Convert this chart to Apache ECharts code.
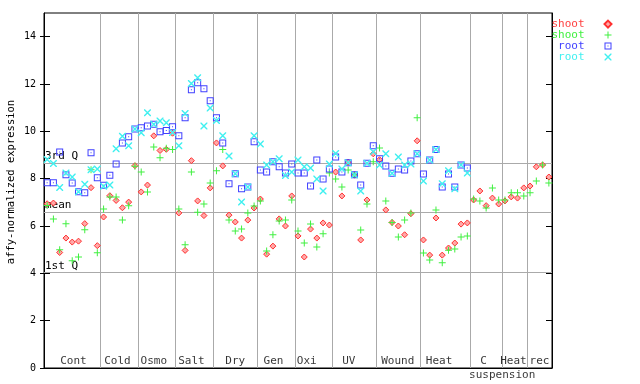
<!DOCTYPE html>
<html><head><meta charset="utf-8">
<script src="https://cdn.jsdelivr.net/npm/echarts@6/dist/echarts.min.js"></script>
<style>html,body{margin:0;padding:0;background:#fff}#c{width:640px;height:384px}</style>
</head><body><div id="c"></div>
<script>
// ---- data ----
const groupNames = ['Cont','Cold','Osmo','Salt','Dry','Gen','Oxi','UV','Wound','Heat','C','Heat','rec'];
const groupSizes = [9,6,6,6,7,6,6,7,7,8,5,4,4];
const groupLabelPos = [4.7,11.7,17.5,23.5,30.5,36.6,41.9,48.6,56.4,63.0,70.1,74.85,79.0];
const subLabelNames = ['suspension'];
const subLabelPos = [73.05];
const yTicks = [0,2,4,6,8,10,12,14];
const quantNames = ['3rd Q','mean','1st Q'];
const quantValues = [8.67,6.60,4.05];

const shoot1 = [6.94,6.97,4.88,5.49,5.32,5.36,6.10,7.62,5.17,
  6.38,7.28,7.08,6.77,7.01,8.55,
  7.44,7.73,9.81,9.19,9.24,9.92,
  6.55,4.97,8.76,7.06,6.44,7.61,
  9.51,8.54,6.46,6.17,5.49,6.25,6.76,
  7.14,4.81,5.15,6.30,6.00,7.27,
  5.58,4.69,5.87,5.49,6.13,6.04,
  8.28,7.27,8.70,8.15,5.41,7.10,9.05,
  8.80,6.68,6.15,6.00,5.63,6.52,9.60,
  5.41,4.77,6.34,4.77,5.07,5.28,6.08,6.13,
  7.10,7.48,6.86,7.18,6.93,
  7.06,7.23,7.18,7.61,
  7.69,8.50,8.58,8.07];
const shoot2 = [6.87,6.30,5.00,6.10,4.53,4.69,5.84,8.38,4.87,
  6.72,7.23,7.23,6.25,6.86,8.52,
  8.28,7.44,9.34,8.88,9.29,9.23,
  6.72,5.21,8.28,6.58,6.93,7.82,
  8.33,9.23,6.25,5.79,5.87,6.55,6.84,
  7.06,4.94,5.63,6.21,6.25,7.10,
  5.79,5.28,6.08,5.11,5.67,8.24,
  7.99,7.65,8.37,8.17,5.83,6.93,8.71,
  9.30,7.06,6.15,5.53,6.25,6.55,10.57,
  4.86,4.56,6.68,4.45,4.98,5.03,5.53,5.58,
  7.14,7.06,6.76,7.61,7.10,
  7.10,7.40,7.40,7.27,
  7.40,7.90,8.58,7.82];
const root1 = [7.83,7.83,9.13,8.17,7.82,7.45,7.40,9.09,8.04,
  7.72,8.14,8.62,9.51,9.77,10.10,
  10.15,10.23,10.30,9.98,10.03,10.19,
  9.81,10.57,11.76,12.05,11.80,11.29,
  10.57,9.51,7.78,8.21,7.57,7.65,9.56,
  8.37,8.28,8.72,8.50,8.24,8.62,
  8.24,8.24,7.69,8.79,7.99,8.41,
  8.92,8.28,8.67,8.17,7.73,8.65,9.39,
  8.84,8.54,8.23,8.41,8.37,8.75,9.05,
  8.20,8.79,9.23,7.65,8.20,7.65,8.58,8.45];
const root2 = [8.81,8.64,7.63,8.24,8.07,7.45,7.76,8.38,8.41,
  7.68,7.73,9.26,9.79,9.39,10.10,
  9.94,10.78,10.30,10.44,10.36,9.95,
  9.39,10.75,12.02,12.26,10.23,10.99,
  10.46,9.81,8.96,8.21,7.01,7.65,9.81,
  9.47,8.58,8.72,8.84,8.13,8.28,
  8.79,8.50,8.45,7.99,7.48,8.62,
  9.06,8.41,8.67,8.17,7.48,8.65,9.14,
  8.58,9.05,8.23,8.92,8.58,8.62,9.05,
  7.90,8.79,9.23,7.79,8.33,7.57,8.58,8.24];

// ---- chart ----
const mono = "'DejaVu Sans Mono', monospace";
const total = groupSizes.reduce((a,b)=>a+b,0);
const bounds = [];
groupSizes.reduce((acc,s,i)=>{ const n=acc+s; if(i<groupSizes.length-1) bounds.push(n); return n; },0);
const pts = arr => arr.map((v,i)=>[i+0.5,v]);

const symPlus = 'path://M3,0H4V7H3Z M0,3H7V4H0Z';
const symSquare = 'path://M0,0H7V7H0Z M1,1V6H6V1Z M3,3H4V4H3Z';
const symX = 'path://M0,0H1L7,6V7H6L0,1Z M6,0H7V1L1,7H0V6Z';

const chart = echarts.init(document.getElementById('c'), null, {renderer:'canvas'});
const labelData = groupNames.map((n,i)=>({name:n, value:[groupLabelPos[i],0]}));
const subData = subLabelNames.map((n,i)=>({name:n, value:[subLabelPos[i],0]}));

chart.setOption({
  animation:false,
  backgroundColor:'#fff',
  grid:{left:44,right:88,top:13,bottom:16,show:true,borderColor:'#000',borderWidth:1,outerBoundsMode:'none',containLabel:false},
  legend:{
    orient:'vertical', align:'right', right:27.5, top:18.6, padding:0, itemGap:0,
    itemWidth:7, itemHeight:7, selectedMode:false,
    formatter: n => n.replace(/\d$/,''),
    textStyle:{fontFamily:mono,fontSize:11,lineHeight:10.7,padding:[0,15,0,0]},
    data:[
      {name:'shoot1',textStyle:{color:'#ff4040'}},
      {name:'shoot2',textStyle:{color:'#40f040'}},
      {name:'root1',textStyle:{color:'#4040ff'}},
      {name:'root2',textStyle:{color:'#40f0f0'}}
    ]
  },
  xAxis:{type:'value',min:0,max:total,
    axisLine:{show:true,lineStyle:{color:'#000',width:1}},
    axisTick:{show:false},axisLabel:{show:false},splitLine:{show:false}},
  yAxis:[{
    type:'value',min:0,max:15,position:'left',
    axisLine:{show:true,lineStyle:{color:'#000',width:1}},
    axisTick:{show:true,length:4,lineStyle:{color:'#000'},customValues:yTicks},
    axisLabel:{show:true,customValues:yTicks,margin:8,color:'#000',fontFamily:mono,fontSize:10},
    splitLine:{show:false},
    name:'affy-normalized expression',nameLocation:'middle',nameGap:27,nameRotate:90,
    nameMoveOverlap:false,
    nameTextStyle:{color:'#000',fontFamily:mono,fontSize:10.5,padding:[0,0,0,17]}
  },{
    type:'value',min:0,max:15,position:'left',
    axisLine:{show:false},
    axisTick:{show:true,inside:true,length:6,lineStyle:{color:'#000'},customValues:yTicks},
    axisLabel:{show:false},splitLine:{show:false}
  },{
    type:'value',min:0,max:15,position:'right',
    axisLine:{show:true,lineStyle:{color:'#000',width:1}},
    axisTick:{show:true,inside:true,length:6,lineStyle:{color:'#000'},customValues:yTicks},
    axisLabel:{show:false},splitLine:{show:false}
  }],
  series:[
    {type:'scatter',name:'labels',data:labelData,symbolSize:0,silent:true,clip:false,z:3,
      label:{show:true,position:'top',distance:1,formatter:'{b}',color:'#000',fontFamily:mono,fontSize:11},
      markLine:{silent:true,symbol:'none',z:1,animation:false,
        lineStyle:{color:'#aaaaaa',width:1,type:'solid'},
        label:{show:false},
        data:[
          ...bounds.map(b=>({xAxis:b})),
          ...quantValues.map((v,i)=>({yAxis:v,name:quantNames[i],
            label:{show:true,position:'insideStartTop',formatter:'{b}',distance:[1,1],color:'#000',fontFamily:mono,fontSize:11}}))
        ]
      }
    },
    {type:'scatter',name:'sub',data:subData,symbolSize:0,silent:true,clip:false,
      label:{show:true,position:'bottom',distance:2,formatter:'{b}',color:'#000',fontFamily:mono,fontSize:11}},
    {type:'scatter',name:'shoot1',data:pts(shoot1),symbol:'diamond',symbolSize:6,silent:true,
      itemStyle:{color:'#ffa8a8',borderColor:'#ff3030',borderWidth:1,opacity:1}},
    {type:'scatter',name:'shoot2',data:pts(shoot2),symbol:symPlus,symbolSize:7,silent:true,
      itemStyle:{color:'#40f040',opacity:1}},
    {type:'scatter',name:'root1',data:pts(root1),symbol:symSquare,symbolSize:7,silent:true,
      itemStyle:{color:'#4040ff',opacity:1}},
    {type:'scatter',name:'root2',data:pts(root2),symbol:symX,symbolSize:7,silent:true,
      itemStyle:{color:'#40f0f0',opacity:1}}
  ]
});
</script></body></html>
